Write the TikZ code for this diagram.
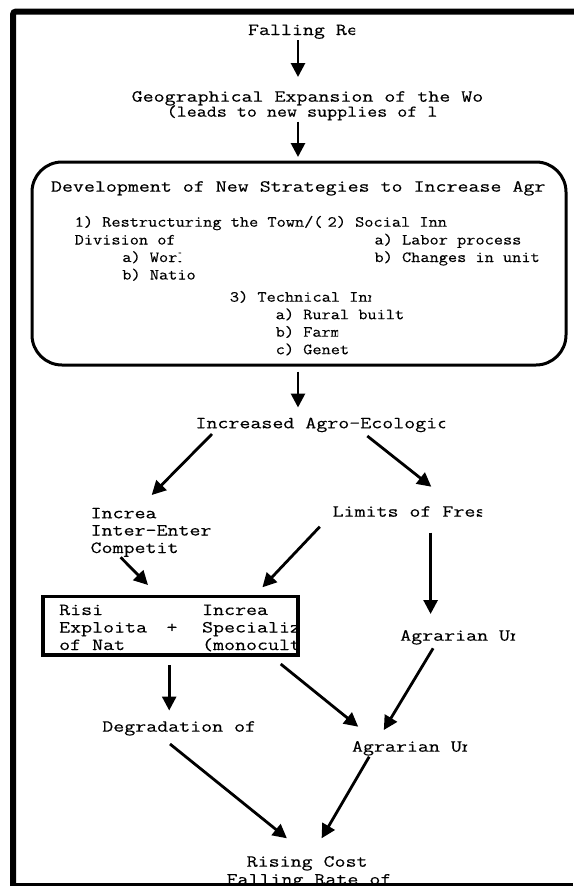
\documentclass[tikz,border=0pt]{standalone}
\usepackage{fontspec}
\newfontfamily\bigmono[FakeStretch=1.255,FakeBold=0.25]{Latin Modern Mono}
\newfontfamily\midmono[FakeStretch=1.18,FakeBold=0.25]{Latin Modern Mono}
\newfontfamily\smlmono[FakeStretch=1.15,FakeBold=0.25]{Latin Modern Mono}
\usetikzlibrary{arrows.meta}
\newcommand\fbig{\bigmono\fontsize{17}{19}\selectfont}
\newcommand\fmid{\midmono\fontsize{16.5}{18}\selectfont}
\newcommand\fsml{\smlmono\fontsize{15.5}{17}\selectfont}
\tikzset{
  txt/.style={anchor=base west, inner sep=0pt, outer sep=0pt},
  big/.style={txt, font=\fbig},
  mid/.style={txt, font=\fmid},
  sml/.style={txt, font=\fsml},
  arr/.style={line width=2.8pt, -{Triangle[length=14pt,width=14pt]}},
  frameline/.style={line width=6pt, rounded corners=3pt},
  roundbox/.style={line width=3pt, rounded corners=30pt},
  plainbox/.style={line width=3.5pt},
}
\begin{document}
\begin{tikzpicture}[x=1pt,y=-1pt]
\useasboundingbox (0,0) rectangle (573,886);
\fill[white] (0,0) rectangle (573,886);

% boxes
\draw[roundbox] (32,162) rectangle (566,365);
\draw[plainbox] (43.1,596.7) rectangle (297.9,655);

% texts
\begin{scope}\clip (0,0) rectangle (355,886);
\node[big] (fall) at (248,35) {Falling Re};\end{scope}
\begin{scope}\clip (0,0) rectangle (484,886);
\node[big] (geo) at (131.7,101.7) {Geographical Expansion of the Wo};\end{scope}
\node[mid] (geob) at (166.7,116.7) {(leads to new supplies of l};

\node[big] (dev) at (51,191.7) {Development of New Strategies to Increase Agr};
\begin{scope}\clip (0,0) rectangle (323,886);
\node[sml] (s1) at (74.7,226.7) {1) Restructuring the Town/(};\end{scope}
\node[sml] (s1b) at (74.7,244.5) {Division of};
\begin{scope}\clip (0,0) rectangle (181,886);
\node[sml] (s1c) at (122.3,262) {a) Worl};\end{scope}
\node[sml] (s1d) at (122.3,279.5) {b) Natio};
\node[sml] (s2) at (327.6,226.7) {2) Social Inn};
\node[sml] (s2a) at (374.5,244.5) {a) Labor process};
\node[sml] (s2b) at (374.5,262) {b) Changes in unit};
\begin{scope}\clip (0,0) rectangle (371,886);
\node[sml] (s3) at (229.9,301.7) {3) Technical Inn};\end{scope}
\node[sml] (s3a) at (275.7,319.2) {a) Rural built};
\begin{scope}\clip (0,0) rectangle (338,886);
\node[sml] (s3b) at (275.7,336.7) {b) Farm};\end{scope}
\node[sml] (s3c) at (275.7,354.2) {c) Genet};

\begin{scope}\clip (0,0) rectangle (445,886);
\node[big] (incr) at (195.5,428.3) {Increased Agro-Ecologic};\end{scope}
\node[big] (comp) at (90.6,518.3) {Increa};
\node[big] (compb) at (90.6,535.5) {Inter-Enter};
\node[big] (compc) at (90.6,553) {Competit};
\begin{scope}\clip (0,0) rectangle (482,886);
\node[big] (lim) at (332.6,516.7) {Limits of Fres};\end{scope}

\node[big] (ra) at (59.2,615) {Risi};
\node[big] (rb) at (59.2,632.5) {Exploita};
\node[big] (rc) at (59.2,650) {of Nat};
\node[big] (plus) at (166.5,632.5) {+};
\begin{scope}\clip (0,0) rectangle (296.2,886);
\node[big] (rd) at (202.1,615) {Increa};
\node[big] (re) at (202.1,632.5) {Specializ};
\node[big] (rf) at (202.1,650) {(monocult};\end{scope}

\begin{scope}\clip (0,0) rectangle (515,886);
\node[big] (agr1) at (400.2,640.7) {Agrarian Un};\end{scope}
\node[big] (deg) at (102.3,731.7) {Degradation of};
\begin{scope}\clip (0,0) rectangle (467,886);
\node[big] (agr2) at (352,751.7) {Agrarian Un};\end{scope}
\node[big] (rise) at (246.7,866.7) {Rising Cost};
\node[big] (riseb) at (226.6,884.5) {Falling Rate of};

% connector end points
\coordinate (fall-o) at (298,40);
\coordinate (geo-i) at (298,77);
\coordinate (geo-o) at (298,121.7);
\coordinate (dev-i) at (298,157);
\coordinate (dev-o) at (298,371.7);
\coordinate (incr-i) at (298,407.5);
\coordinate (incr-ol) at (212,434);
\coordinate (comp-i) at (151.7,495);
\coordinate (incr-or) at (367.3,436);
\coordinate (lim-i) at (431.3,486.7);
\coordinate (comp-o) at (120.6,557.3);
\coordinate (rect-il) at (148,585);
\coordinate (lim-ol) at (319.8,526.7);
\coordinate (rect-ir) at (262.4,587.3);
\coordinate (lim-od) at (430.6,532.7);
\coordinate (agr1-i) at (430.6,614);
\coordinate (rect-or) at (280.7,664);
\coordinate (agr2-il) at (358.2,726.7);
\coordinate (agr1-o) at (433.1,648.3);
\coordinate (agr2-ir) at (383.8,730);
\coordinate (rect-od) at (169.2,665);
\coordinate (deg-i) at (169.2,710.5);
\coordinate (deg-o) at (170,744);
\coordinate (rise-il) at (286.9,838.3);
\coordinate (agr2-o) at (369.2,756.7);
\coordinate (rise-ir) at (321.6,838.3);

\draw[arr] (fall-o) -- (geo-i);
\draw[arr] (geo-o) -- (dev-i);
\draw[arr] (dev-o) -- (incr-i);
\draw[arr] (incr-ol) -- (comp-i);
\draw[arr] (incr-or) -- (lim-i);
\draw[arr] (comp-o) -- (rect-il);
\draw[arr] (lim-ol) -- (rect-ir);
\draw[arr] (lim-od) -- (agr1-i);
\draw[arr] (rect-or) -- (agr2-il);
\draw[arr] (agr1-o) -- (agr2-ir);
\draw[arr] (rect-od) -- (deg-i);
\draw[arr] (deg-o) -- (rise-il);
\draw[arr] (agr2-o) -- (rise-ir);

% frame
\coordinate (fr-bl) at (13,886);
\coordinate (fr-tl) at (13,11.5);
\coordinate (fr-tr) at (580,11.5);
\draw[frameline] (fr-bl) -- (fr-tl) -- (fr-tr);
\coordinate (fb-l) at (13,884.7);
\coordinate (fb-r) at (573,884.7);
\fill[white] (0,883.3) rectangle (573,886);
\draw[line width=2.6pt] (fb-l) -- (fb-r);
\draw[line width=6pt] (13,880) -- (fr-bl);
\end{tikzpicture}
\end{document}
